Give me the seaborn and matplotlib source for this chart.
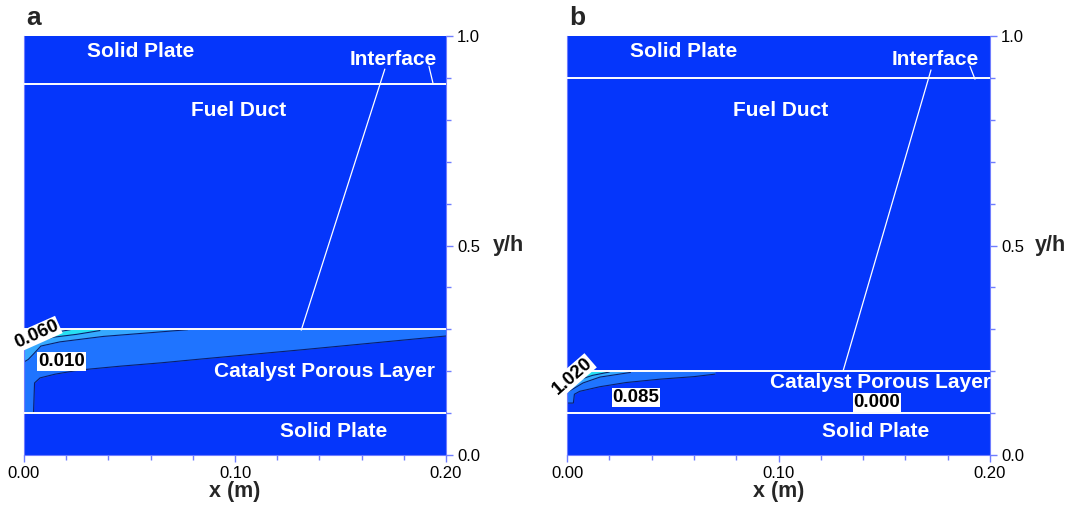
import matplotlib
matplotlib.use("Agg")
import matplotlib.pyplot as plt
import pandas as pd
import seaborn as sns

# ---------------- data ----------------
# Panel a : layer boundaries (y/h)
a_layer_lines = [0.1, 0.3, 0.885]
a_interface = 0.3
# contour bands (lower edge; upper edge = catalyst/duct interface)
a_c1_x = [0.0, 0.001, 0.0045, 0.005, 0.0076, 0.0148, 0.0267, 0.0457, 0.065, 0.0838, 0.1314, 0.2]
a_c1_y = [0.1, 0.1, 0.1, 0.172, 0.184, 0.193, 0.203, 0.212, 0.220, 0.229, 0.251, 0.284]
a_c2_x = [0.0, 0.002, 0.0043, 0.008, 0.017, 0.0376, 0.0776]
a_c2_y = [0.222, 0.228, 0.240, 0.260, 0.270, 0.283, 0.299]
a_c3_x = [0.0, 0.0043, 0.0138, 0.025, 0.036]
a_c3_y = [0.252, 0.267, 0.281, 0.288, 0.297]
a_c4_x = [0.0, 0.008, 0.015, 0.022]
a_c4_y = [0.283, 0.289, 0.293, 0.299]
a_labels = ["0.060", "0.010"]
a_label_x = [0.0060, 0.0179]
a_label_y = [0.288, 0.224]
a_label_rot = [24, 0]

# Panel b
b_layer_lines = [0.1, 0.2, 0.9]
b_interface = 0.2
b_c1_x = [0.0, 0.003, 0.0035, 0.006, 0.0156, 0.028, 0.044, 0.060, 0.070]
b_c1_y = [0.124, 0.124, 0.145, 0.152, 0.163, 0.173, 0.181, 0.187, 0.193]
b_c2_x = [0.0, 0.003, 0.0076, 0.0156, 0.030]
b_c2_y = [0.150, 0.158, 0.172, 0.186, 0.197]
b_c3_x = [0.0, 0.006, 0.012, 0.020]
b_c3_y = [0.168, 0.180, 0.190, 0.198]
b_labels = ["1.020", "0.085", "0.000"]
b_label_x = [0.0025, 0.0326, 0.1466]
b_label_y = [0.188, 0.137, 0.125]
b_label_rot = [41, 0, 0]

# region names
region_names = ["Solid Plate", "Interface", "Fuel Duct", "Catalyst Porous Layer", "Solid Plate"]
a_name_x = [0.0552, 0.1752, 0.1019, 0.1424, 0.1467]
a_name_y = [0.962, 0.945, 0.823, 0.200, 0.055]
b_name_x = [0.0553, 0.1740, 0.1012, 0.1480, 0.1460]
b_name_y = [0.962, 0.945, 0.823, 0.172, 0.055]

# interface leader lines
a_lead1_x, a_lead1_y = [0.171, 0.1314], [0.921, 0.298]
a_lead2_x, a_lead2_y = [0.1919, 0.1938], [0.928, 0.888]
b_lead1_x, b_lead1_y = [0.1721, 0.1305], [0.919, 0.200]
b_lead2_x, b_lead2_y = [0.1905, 0.1929], [0.928, 0.897]

x_ticks = [0.0, 0.1, 0.2]
x_tick_labels = ["0.00", "0.10", "0.20"]
y_ticks = [0.0, 0.5, 1.0]
y_tick_labels = ["0.0", "0.5", "1.0"]

# ---------------- style ----------------
sns.set_theme(style="ticks")
plt.rcParams["font.family"] = ["Liberation Sans", "DejaVu Sans"]

BG = "#0536fb"
C1 = "#1f74ff"
C2 = "#35a8ff"
C3 = "#27e0f2"
C4 = "#9ff7ff"
EDGE = "#0b1f6e"
SPINE = "#6f7dff"

fig = plt.figure(figsize=(10.69, 5.13), dpi=100)
ax_a = fig.add_axes([24 / 1069, 58 / 513, 422 / 1069, 419 / 513])
ax_b = fig.add_axes([567 / 1069, 58 / 513, 423 / 1069, 419 / 513])


def draw_panel(ax, layers, interface, bands, labels, lx, ly, lrot,
               nx, ny, lead1, lead2, letter, ylab_x):
    ax.set_facecolor(BG)
    colors = [C1, C2, C3, C4]
    for (bx, by), col in zip(bands, colors):
        ax.fill_between(bx, by, [interface] * len(bx), color=col, lw=0, zorder=1)
        df = pd.DataFrame({"x": bx, "y": by})
        sns.lineplot(data=df, x="x", y="y", ax=ax, color=EDGE, lw=0.8,
                     sort=False, estimator=None, zorder=2)
    for yl in layers:
        ax.axhline(yl, color="white", lw=1.4, zorder=3)
    sns.lineplot(x=lead1[0], y=lead1[1], ax=ax, color="white", lw=0.9,
                 sort=False, estimator=None, zorder=3)
    sns.lineplot(x=lead2[0], y=lead2[1], ax=ax, color="white", lw=0.9,
                 sort=False, estimator=None, zorder=3)
    for name, x, y in zip(region_names, nx, ny):
        ax.text(x, y, name, color="white", fontsize=15, fontweight="bold",
                ha="center", va="center", zorder=4)
    for t, x, y, r in zip(labels, lx, ly, lrot):
        ax.text(x, y, t, color="black", fontsize=13.5, fontweight="bold",
                ha="center", va="center", rotation=r, zorder=5, clip_on=False,
                rotation_mode="anchor",
                bbox=dict(boxstyle="square,pad=0.05", fc="white", ec="none"))

    ax.set_xlim(0, 0.2)
    ax.set_ylim(0, 1)
    ax.set_xticks(x_ticks)
    ax.set_xticklabels(x_tick_labels)
    ax.set_xticks([0.02 * i for i in range(11)], minor=True)
    ax.yaxis.tick_right()
    ax.set_yticks(y_ticks)
    ax.set_yticklabels(y_tick_labels)
    ax.set_yticks([0.1 * i for i in range(11)], minor=True)
    ax.tick_params(axis="both", which="major", direction="out", length=5,
                   width=1, color=SPINE, labelsize=12, labelcolor="black", pad=3)
    ax.tick_params(axis="both", which="minor", direction="out", length=3.5,
                   width=1, color=SPINE)
    ax.tick_params(axis="y", which="both", left=False, right=True)
    ax.tick_params(axis="x", which="both", top=False, bottom=True)
    for s in ax.spines.values():
        s.set_color(SPINE)
        s.set_linewidth(0.8)
    ax.spines["top"].set_visible(False)
    ax.set_xlabel("x (m)", fontsize=15.5, fontweight="bold", labelpad=0)
    ax.set_ylabel("")
    ax.text(ylab_x, 0.5, "y/h", transform=ax.transAxes, fontsize=15.5,
            fontweight="bold", ha="left", va="center")
    ax.text(0.005, 1.042, letter, transform=ax.transAxes, fontsize=19,
            fontweight="bold", ha="left", va="center")


draw_panel(ax_a, a_layer_lines, a_interface,
           [(a_c1_x, a_c1_y), (a_c2_x, a_c2_y), (a_c3_x, a_c3_y), (a_c4_x, a_c4_y)],
           a_labels, a_label_x, a_label_y, a_label_rot,
           a_name_x, a_name_y, (a_lead1_x, a_lead1_y), (a_lead2_x, a_lead2_y),
           "a", 1.11)
draw_panel(ax_b, b_layer_lines, b_interface,
           [(b_c1_x, b_c1_y), (b_c2_x, b_c2_y), (b_c3_x, b_c3_y)],
           b_labels, b_label_x, b_label_y, b_label_rot,
           b_name_x, b_name_y, (b_lead1_x, b_lead1_y), (b_lead2_x, b_lead2_y),
           "b", 1.105)

fig.savefig("out.png", dpi=100)
